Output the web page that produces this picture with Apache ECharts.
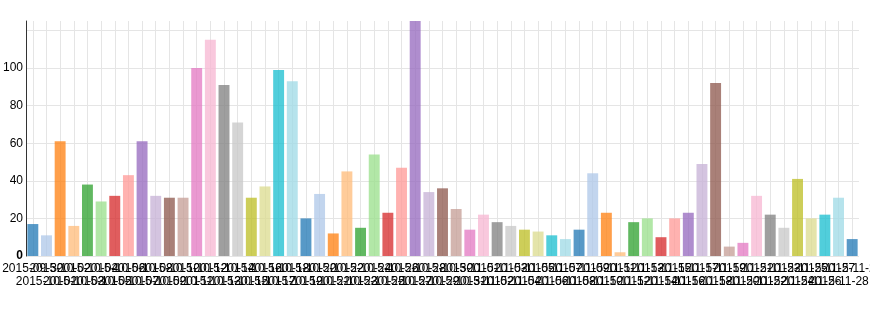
<!DOCTYPE html>
<html>
<head>
<meta charset="utf-8">
<script src="https://cdn.jsdelivr.net/npm/echarts@6/dist/echarts.min.js"></script>
<style>
html,body{margin:0;padding:0;background:#fff;}
#chart{width:870px;height:325px;}
</style>
</head>
<body>
<div id="chart"></div>
<script>
// Category labels (dates), estimated from the overlapping tick text
const categories = [];
(function(){
  const start = new Date(Date.UTC(2015, 8, 30));
  for (let i = 0; i < 61; i++) {
    const d = new Date(start.getTime() + i * 86400000);
    const mm = String(d.getUTCMonth() + 1).padStart(2, '0');
    const dd = String(d.getUTCDate()).padStart(2, '0');
    categories.push(d.getUTCFullYear() + '-' + mm + '-' + dd);
  }
})();

// Bar values
const values = [
  17, 11, 61, 16, 38, 29, 32, 43, 61, 32,
  31, 31, 100, 115, 91, 71, 31, 37, 99, 93,
  20, 33, 12, 45, 15, 54, 23, 47, 125, 34,
  36, 25, 14, 22, 18, 16, 14, 13, 11, 9,
  14, 44, 23, 2, 18, 20, 10, 20, 23, 49,
  92, 5, 7, 32, 22, 15, 41, 20, 22, 31,
  9
];

// Y axis tick values
const yTicks = [0, 20, 40, 60, 80, 100, 120];

const palette = ['#1f77b4','#aec7e8','#ff7f0e','#ffbb78','#2ca02c','#98df8a','#d62728','#ff9896','#9467bd','#c5b0d5',
                 '#8c564b','#c49c94','#e377c2','#f7b6d2','#7f7f7f','#c7c7c7','#bcbd22','#dbdb8d','#17becf','#9edae5'];

const chart = echarts.init(document.getElementById('chart'), null, {renderer: 'canvas'});
const gridColor = '#e5e5e5';
const hLineColors = yTicks.map(() => gridColor).concat(['rgba(0,0,0,0)']);

chart.setOption({
  animation: false,
  backgroundColor: '#fff',
  grid: {left: 26, right: 11, top: 21, bottom: 69, containLabel: false, outerBoundsMode: 'none'},
  xAxis: {
    type: 'category',
    data: categories,
    boundaryGap: true,
    axisLine: {show: false},
    axisTick: {show: false, alignWithLabel: true},
    splitLine: {show: true, alignWithLabel: true, lineStyle: {color: gridColor, width: 1}},
    axisLabel: {
      interval: 0,
      hideOverlap: false,
      showMinLabel: true,
      showMaxLabel: true,
      margin: 6,
      color: '#000',
      fontFamily: 'Liberation Sans, Arial, sans-serif',
      fontSize: 12,
      lineHeight: 13,
      formatter: function (v, i) { return i % 2 === 0 ? v : '\n' + v; }
    }
  },
  yAxis: {
    type: 'value',
    min: 0,
    max: 125,
    interval: 20,
    axisLine: {show: true, lineStyle: {color: '#333', width: 1}},
    axisTick: {show: false},
    splitLine: {show: true, lineStyle: {color: hLineColors, width: 1}},
    axisLabel: {
      margin: 3,
      color: '#000',
      fontFamily: 'Liberation Sans, Arial, sans-serif',
      fontSize: 12,
      formatter: function (v) {
        if (v === 0) return '{b|0}';
        return yTicks.indexOf(v) >= 0 && v <= 100 ? String(v) : '';
      },
      rich: {b: {fontWeight: 'bold', fontSize: 12, color: '#000', fontFamily: 'Liberation Sans, Arial, sans-serif'}}
    }
  },
  series: [{
    type: 'bar',
    data: values.map((v, i) => ({value: v, itemStyle: {color: palette[i % palette.length]}})),
    barCategoryGap: '20%',
    itemStyle: {opacity: 0.75}
  }]
});
</script>
</body>
</html>
